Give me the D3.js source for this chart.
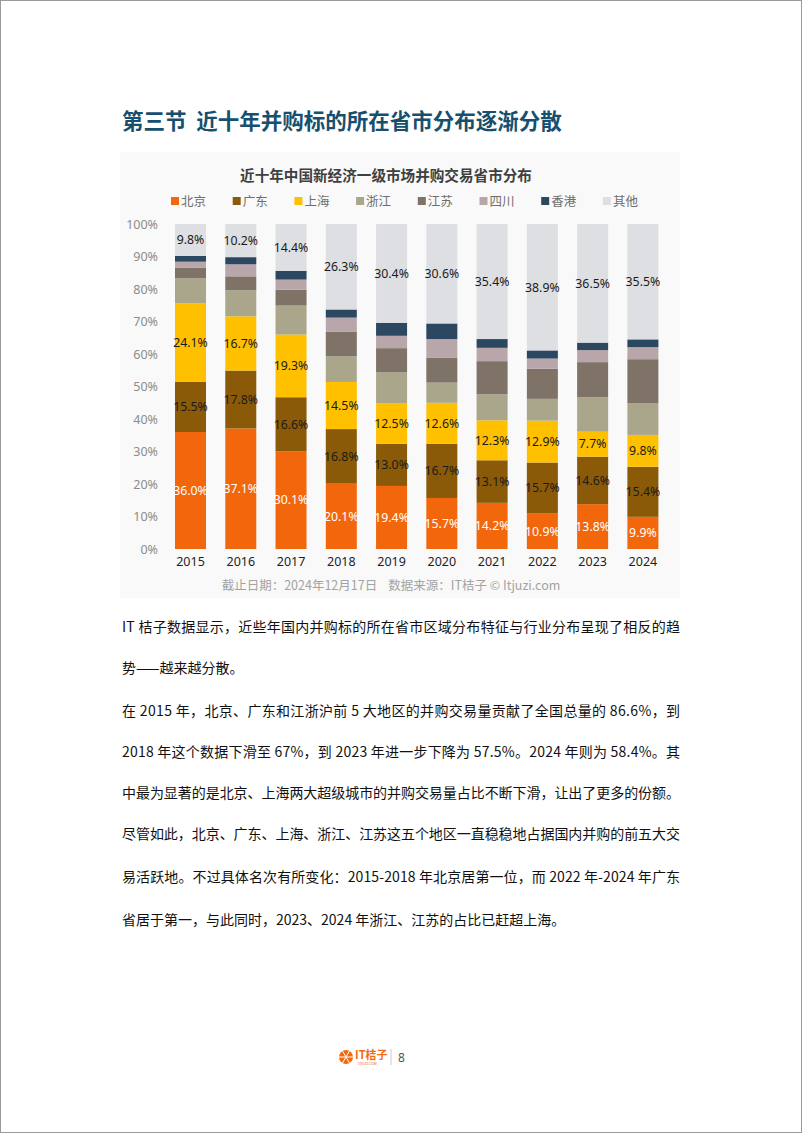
<!DOCTYPE html>
<html>
<head>
<meta charset="utf-8">
<script src="https://cdn.jsdelivr.net/npm/d3@7"></script>
<style>
  body { margin: 0; background: #fff; }
  svg { display: block; }
</style>
</head>
<body>
<div id="page"></div>
<script>
// data (percent of deals per province)
var years = ["2015", "2016", "2017", "2018", "2019", "2020", "2021", "2022", "2023", "2024"];
var regions = ["北京", "广东", "上海", "浙江", "江苏", "四川", "香港", "其他"];
var beijing   = [36.0, 37.1, 30.1, 20.1, 19.4, 15.7, 14.2, 10.9, 13.8, 9.9];
var guangdong = [15.5, 17.8, 16.6, 16.8, 13.0, 16.7, 13.1, 15.7, 14.6, 15.4];
var shanghai  = [24.1, 16.7, 19.3, 14.5, 12.5, 12.6, 12.3, 12.9, 7.7, 9.8];
var zhejiang  = [7.7, 8.0, 8.9, 7.9, 9.5, 6.2, 8.0, 6.7, 10.6, 9.7];
var jiangsu   = [3.3, 4.3, 4.9, 7.5, 7.4, 7.6, 10.2, 9.3, 10.8, 13.6];
var sichuan   = [1.8, 3.7, 3.1, 4.4, 3.8, 5.8, 4.1, 3.1, 3.7, 3.7];
var hongkong  = [1.8, 2.2, 2.7, 2.5, 4.0, 4.8, 2.7, 2.5, 2.3, 2.4];
var others    = [9.8, 10.2, 14.4, 26.3, 30.4, 30.6, 35.4, 38.9, 36.5, 35.5];
var yTicks = [0, 10, 20, 30, 40, 50, 60, 70, 80, 90, 100];
var labelled = ["北京", "广东", "上海", "其他"];

var colors = {
    "北京": "#f2670c", "广东": "#8a5a08", "上海": "#ffc000", "浙江": "#a9a68b",
    "江苏": "#7e7366", "四川": "#b9a6aa", "香港": "#2c4760", "其他": "#dedfe3"
};
var series = [beijing, guangdong, shanghai, zhejiang, jiangsu, sichuan, hongkong, others];

var rows = years.map(function(y, i) {
    var r = { year: y };
    regions.forEach(function(k, j) { r[k] = series[j][i]; });
    return r;
});

var cjk = "'Noto Sans CJK SC', 'Noto Sans', sans-serif";
var num = "'Noto Sans', 'Noto Sans CJK SC', sans-serif";

var svg = d3.select("#page")
    .append("svg")
    .attr("width", 802)
    .attr("height", 1133);

// page frame
svg.append("rect")
    .attr("x", 0.5).attr("y", 0.5)
    .attr("width", 801).attr("height", 1132)
    .attr("fill", "#fff")
    .attr("stroke", "#9a9a9a");

// section heading
svg.append("text")
    .attr("x", 122)
    .attr("y", 129)
    .attr("font-family", cjk)
    .attr("font-size", "21.5px")
    .attr("font-weight", "bold")
    .attr("fill", "#17506e")
    .attr("xml:space", "preserve")
    .text("第三节  近十年并购标的所在省市分布逐渐分散");

// chart panel
svg.append("rect")
    .attr("x", 120).attr("y", 152)
    .attr("width", 560).attr("height", 446)
    .attr("fill", "#f9f9f9");

svg.append("text")
    .attr("x", 386)
    .attr("y", 181)
    .attr("text-anchor", "middle")
    .attr("font-family", cjk)
    .attr("font-size", "14.6px")
    .attr("font-weight", "bold")
    .attr("fill", "#404040")
    .text("近十年中国新经济一级市场并购交易省市分布");

// legend
var legend = svg.append("g")
    .selectAll("g")
    .data(regions)
    .enter()
    .append("g")
    .attr("transform", function(d, i) { return "translate(" + (171 + i * 61.7) + ",197)"; });
legend.append("rect")
    .attr("width", 8).attr("height", 8)
    .attr("fill", function(d) { return colors[d]; });
legend.append("text")
    .attr("x", 10)
    .attr("y", 8.5)
    .attr("font-family", cjk)
    .attr("font-size", "12.5px")
    .attr("fill", "#6e6e6e")
    .text(function(d) { return d; });

// scales
var x = d3.scaleBand()
    .domain(years)
    .range([165.45, 667.95])
    .paddingInner(0.383)
    .paddingOuter(0.19);

var y = d3.scaleLinear()
    .domain([0, 100])
    .range([549, 224]);

// Y axis labels (no line)
var yAxis = svg.append("g")
    .attr("transform", "translate(158,0)")
    .call(d3.axisLeft(y).tickValues(yTicks).tickSize(0).tickPadding(0)
        .tickFormat(function(d) { return d + "%"; }));
yAxis.select(".domain").remove();
yAxis.selectAll("text")
    .attr("font-family", num)
    .attr("font-size", "12.5px")
    .attr("fill", "#8c8c8c");

// X axis labels
var xAxis = svg.append("g")
    .attr("transform", "translate(0,557)")
    .call(d3.axisBottom(x).tickSize(0).tickPadding(0));
xAxis.select(".domain").remove();
xAxis.selectAll("text")
    .attr("font-family", num)
    .attr("font-size", "12.5px")
    .attr("fill", "#1e1e1e");

// stacked bars
var stack = d3.stack().keys(regions)(rows);

var layers = svg.append("g")
    .selectAll("g")
    .data(stack)
    .enter()
    .append("g")
    .attr("fill", function(d) { return colors[d.key]; });

layers.selectAll("rect")
    .data(function(d) { return d; })
    .enter()
    .append("rect")
    .attr("x", function(d) { return x(d.data.year); })
    .attr("y", function(d) { return y(d[1]); })
    .attr("width", x.bandwidth())
    .attr("height", function(d) { return y(d[0]) - y(d[1]); });

// value labels
stack.filter(function(s) { return labelled.indexOf(s.key) >= 0; }).forEach(function(s) {
    svg.append("g")
        .selectAll("text")
        .data(s)
        .enter()
        .append("text")
        .attr("x", function(d) { return x(d.data.year) + x.bandwidth() / 2; })
        .attr("y", function(d) { return y((d[0] + d[1]) / 2); })
        .attr("dy", "0.35em")
        .attr("text-anchor", "middle")
        .attr("font-family", num)
        .attr("font-size", "12.3px")
        .attr("fill", s.key === "北京" ? "#ffffff" : "#1a1a1a")
        .text(function(d) { return d.data[s.key].toFixed(1) + "%"; });
});

// source note
svg.append("text")
    .attr("x", 391)
    .attr("y", 590)
    .attr("text-anchor", "middle")
    .attr("font-family", cjk)
    .attr("font-size", "12.5px")
    .attr("fill", "#a3a3a3")
    .attr("xml:space", "preserve")
    .text("截止日期：2024年12月17日    数据来源：IT桔子 © Itjuzi.com");

// body text
var lines = [
    ["IT 桔子数据显示，近些年国内并购标的所在省市区域分布特征与行业分布呈现了相反的趋", 632, true],
    ["势——越来越分散。", 673, false],
    ["在 2015 年，北京、广东和江浙沪前 5 大地区的并购交易量贡献了全国总量的 86.6%，到", 716, true],
    ["2018 年这个数据下滑至 67%，到 2023 年进一步下降为 57.5%。2024 年则为 58.4%。其", 757, true],
    ["中最为显著的是北京、上海两大超级城市的并购交易量占比不断下滑，让出了更多的份额。", 798, true],
    ["尽管如此，北京、广东、上海、浙江、江苏这五个地区一直稳稳地占据国内并购的前五大交", 839, true],
    ["易活跃地。不过具体名次有所变化：2015-2018 年北京居第一位，而 2022 年-2024 年广东", 882, true],
    ["省居于第一，与此同时，2023、2024 年浙江、江苏的占比已赶超上海。", 925, false]
];
lines.forEach(function(l) {
    var t = svg.append("text")
        .attr("x", 122)
        .attr("y", l[1])
        .attr("font-family", cjk)
        .attr("font-size", "14px")
        .attr("fill", "#111")
        .text(l[0]);
    if (l[2]) t.attr("textLength", 558).attr("lengthAdjust", "spacing");
});

// page footer
var foot = svg.append("g").attr("transform", "translate(346,1057)");
foot.append("circle").attr("r", 7).attr("fill", "#f26a10");
d3.range(6).forEach(function(i) {
    var a = i * Math.PI / 3;
    foot.append("line")
        .attr("x1", 0).attr("y1", 0)
        .attr("x2", 7 * Math.cos(a)).attr("y2", 7 * Math.sin(a))
        .attr("stroke", "#fff").attr("stroke-width", 1);
});
foot.append("text")
    .attr("x", 9).attr("y", 2)
    .attr("font-family", cjk)
    .attr("font-size", "11px")
    .attr("font-weight", "bold")
    .attr("fill", "#f26a10")
    .text("IT桔子");
foot.append("text")
    .attr("x", 12).attr("y", 8)
    .attr("font-family", num)
    .attr("font-size", "3.5px")
    .attr("fill", "#f26a10")
    .text("ITJUZI.COM");
foot.append("line")
    .attr("x1", 45).attr("x2", 45)
    .attr("y1", -8).attr("y2", 8)
    .attr("stroke", "#cccccc");
foot.append("text")
    .attr("x", 52).attr("y", 4.5)
    .attr("font-family", num)
    .attr("font-size", "12px")
    .attr("fill", "#555")
    .text("8");
</script>
</body>
</html>
